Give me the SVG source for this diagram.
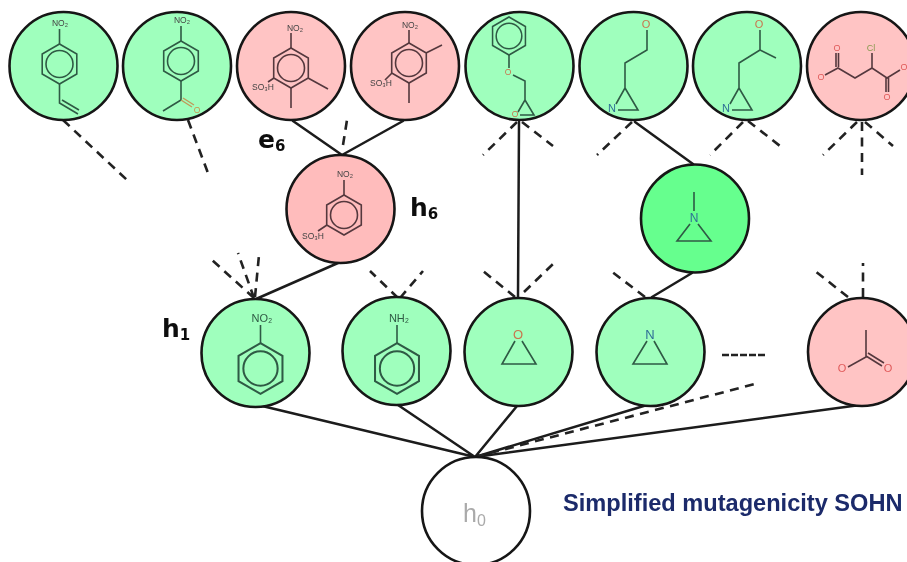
<svg xmlns="http://www.w3.org/2000/svg" xmlns:xlink="http://www.w3.org/1999/xlink" width="907" height="562" viewBox="0 0 907 562">
<style>
.g{fill:#9fffbd}.p{fill:#ffc4c4}.p2{fill:#ffbcbc}.g2{fill:#66ff8e}.w{fill:#fff}
.n{stroke:#161616;stroke-width:2.6}
.s{stroke:#1c1c1c;stroke-width:2.5;fill:none;stroke-linecap:round}
.d{stroke:#222;stroke-width:2.6;fill:none;stroke-dasharray:9 6.5}
.m{stroke:#2f5a44;stroke-width:1.6;fill:none}
.mp{stroke:#54383e;stroke-width:1.6;fill:none}
.f{font-family:"Liberation Sans",Arial,sans-serif;text-anchor:middle}
.t{font-size:8.5px;fill:#444}
.a{font-size:11px}
.o{fill:#c8764e}.r{fill:#e05a5a}.b{fill:#2f6f96}
.l{font-family:"DejaVu Sans",sans-serif;font-weight:700;font-size:25px;fill:#111}
.sb{font-size:15px}
</style>
<defs>
<g id="ring"><polygon points="0,-20 17.3,-10 17.3,10 0,20 -17.3,10 -17.3,-10"/><circle r="13.5"/></g>
<filter id="soft" x="0" y="0" width="100%" height="100%"><feGaussianBlur stdDeviation="0.45"/></filter>
</defs>
<g filter="url(#soft)">
<rect width="907" height="562" fill="#fff"/>
<g id="connectors">
<path class="s" d="M475 457L258 405M475 457L398 405M475 457L517 406M475 457L647 405M475 457L860 405"/>
<path class="d" d="M475 457L755 384"/>
<path class="s" d="M256 299L338 263M342 155L293 121M342 155L403 121M518 297L519 122M635 122L693 164M692 273L652 297"/>
<path class="d" d="M343 145L347 120"/>
<path class="d" d="M63 120L127 180M188 120L208 173"/>
<path class="d" d="M517 122L483 155M522 122L553 146M632 122L597 155M743 122L710 155M748 121L780 146M857 122L823 155M862 122L862 175M865 122L893 146"/>
<path class="d" d="M254 298L212 260M254 298L238 253M255 297L259 255M398 298L370 271M400 298L423 271M515 297L483 271M524 292L554 263M645 297L611 271M848 297L815 271M863 297L863 263"/>
<path class="d" style="stroke-dasharray:7 2" d="M722 355L765 355"/>
</g>
<g id="n1"><circle class="n g" cx="63.5" cy="66" r="54"/><use href="#ring" class="m" x="59.5" y="64"/><path class="m" d="M59.5 44V29M59.5 84V103L78 114M62 100L79 110"/><text class="f t" x="60" y="26">NO₂</text></g>
<g id="n2"><circle class="n g" cx="177" cy="66" r="54"/><use href="#ring" class="m" x="181" y="61"/><path class="m" d="M181 41V26M181 81V100L163 111"/><path d="M181 100L192 107M183 98L194 105" stroke="#c09a5a" stroke-width="1.4"/><text class="f t" x="182" y="23">NO₂</text><text class="f t o" x="197" y="113" style="fill:#c8964e">O</text></g>
<g id="n3"><circle class="n p" cx="291" cy="66" r="54"/><use href="#ring" class="mp" x="291" y="68"/><path class="mp" d="M291 48V33M274 78L268 82M291 88V108M308 78L328 89"/><text class="f t" x="295" y="31">NO₂</text><text class="f t" x="263" y="90">SO₃H</text></g>
<g id="n4"><circle class="n p" cx="405" cy="66" r="54"/><use href="#ring" class="mp" x="409" y="63"/><path class="mp" d="M409 43V30M392 73L385 80M409 83V103M426 53L442 45"/><text class="f t" x="410" y="28">NO₂</text><text class="f t" x="381" y="86">SO₃H</text></g>
<g id="n5"><circle class="n g" cx="519.5" cy="66" r="54"/><use href="#ring" class="m" transform="translate(509 36) scale(.95)"/><path class="m" d="M509 55V68M513 75L525 81V100L518 112M525 100L534 115H520"/><text class="f t o" x="508" y="75">O</text><text class="f t o" x="515" y="117">O</text></g>
<g id="n6"><circle class="n g" cx="633.5" cy="66" r="54"/><path class="m" d="M647 30V50L625 63V88L616 104M625 88L638 110H618"/><text class="f a o" x="646" y="28">O</text><text class="f a b" x="612" y="112">N</text></g>
<g id="n7"><circle class="n g" cx="747" cy="66" r="54"/><path class="m" d="M760 30V50L776 58M760 50L739 63V88L730 104M739 88L752 110H732"/><text class="f a o" x="759" y="28">O</text><text class="f a b" x="726" y="112">N</text></g>
<g id="n8"><circle class="n p" cx="861" cy="66" r="54"/><path class="mp" d="M825 75L838 68L855 78L872 68L887 78L900 70M872 53V68M836 53V67M838.500 53V67M886 78V92M888.500 78V92"/><text class="f r" x="837" y="51" style="font-size:9px">O</text><text class="f r" style="font-size:9px" x="821" y="80">O</text><text class="f r" style="font-size:9px" x="904" y="70">O</text><text class="f r" style="font-size:9px" x="887" y="100">O</text><text class="f" style="font-size:9px;fill:#8a9a50" x="871" y="51">Cl</text></g>
<g id="h6"><circle class="n p2" cx="340.500" cy="209" r="54"/><use href="#ring" class="mp" x="344" y="215"/><path class="mp" d="M344 195V180M327 225L318 231"/><text class="f t" x="345" y="177">NO₂</text><text class="f t" x="313" y="239">SO₃H</text></g>
<g id="h1"><circle class="n g" cx="255.500" cy="353" r="54"/><use href="#ring" class="m" transform="translate(260.500 368.500) scale(1.27)"/><path class="m" d="M260.500 325V343"/><text class="f" style="font-size:11px;fill:#2f5a44" x="262" y="322">NO₂</text></g>
<g id="h2"><circle class="n g" cx="396.500" cy="351" r="54"/><use href="#ring" class="m" transform="translate(397 368.500) scale(1.27)"/><path class="m" d="M397 325V343"/><text class="f" style="font-size:11px;fill:#2f5a44" x="399" y="322">NH₂</text></g>
<g id="h3"><circle class="n g" cx="518.500" cy="352" r="54"/><path class="m" d="M515 341L502 364H536L522 341"/><text class="f o" style="font-size:13px" x="518" y="339">O</text></g>
<g id="h4"><circle class="n g" cx="650.500" cy="352" r="54"/><path class="m" d="M647 341L633 364H667L654 341"/><text class="f b" style="font-size:13px" x="650" y="339">N</text></g>
<g id="h5"><circle class="n g2" cx="695" cy="218.500" r="54"/><path class="m" d="M694 192V211M690 224L677 241H711L698 224"/><text class="f b" style="font-size:12px" x="694" y="222">N</text></g>
<g id="h7"><circle class="n p" cx="862" cy="352" r="54"/><path class="mp" d="M866 330V357L848 367M866 356L882 366M868 353L884 363"/><text class="f r" style="font-size:11px" x="842" y="372">O</text><text class="f r" style="font-size:11px" x="888" y="372">O</text></g>
<g id="h0"><circle class="n w" cx="476" cy="511" r="54"/><text x="463" y="522" style="font-family:'Liberation Sans',Arial,sans-serif;font-size:25px;fill:#aaa">h<tspan style="font-size:16px" dy="4">0</tspan></text></g>
<text class="l" x="258" y="148">e<tspan class="sb" dy="3">6</tspan></text>
<text class="l" x="410" y="216">h<tspan class="sb" dy="3">6</tspan></text>
<text class="l" x="162" y="337">h<tspan class="sb" dy="3">1</tspan></text>
<text x="563" y="511" style="font-family:'Liberation Sans',Arial,sans-serif;font-weight:700;font-size:23.6px;fill:#1a2b6b">Simplified mutagenicity SOHN</text>
</g>
</svg>
